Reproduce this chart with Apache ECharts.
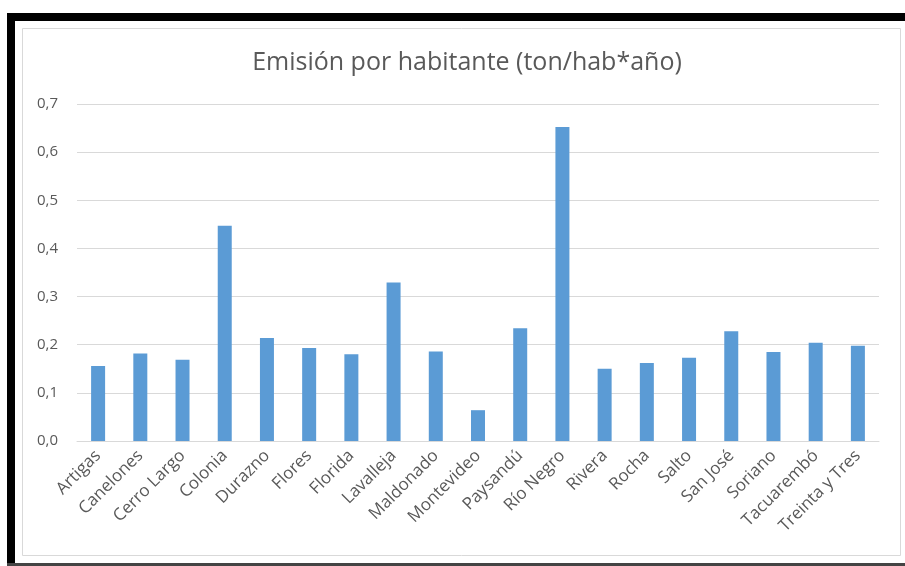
<!DOCTYPE html>
<html>
<head>
<meta charset="utf-8">
<script src="https://cdn.jsdelivr.net/npm/echarts@6/dist/echarts.min.js"></script>
<style>
  html, body { margin: 0; padding: 0; background: #fff; }
  #chart { width: 905px; height: 566px; }
</style>
</head>
<body>
<div id="chart"></div>
<script>
  // departamentos
  var departamentos = ['Artigas', 'Canelones', 'Cerro Largo', 'Colonia', 'Durazno', 'Flores', 'Florida',
    'Lavalleja', 'Maldonado', 'Montevideo', 'Paysandú', 'Río Negro', 'Rivera', 'Rocha', 'Salto',
    'San José', 'Soriano', 'Tacuarembó', 'Treinta y Tres']
  // emision ton/hab*año
  var emision = [0.156, 0.182, 0.169, 0.447, 0.214, 0.193, 0.180,
    0.329, 0.186, 0.064, 0.234, 0.652, 0.150, 0.162, 0.173,
    0.228, 0.185, 0.204, 0.198]
  var yMin = 0
  var yMax = 0.7
  var yStep = 0.1

  var font = 'Open Sans'
  var myChart = echarts.init(document.getElementById('chart'))
  var option = {
    animation: false,
    backgroundColor: '#fff',
    title: {
      text: 'Emisión por habitante (ton/hab*año)',
      left: 462,
      top: 45,
      textAlign: 'center',
      textStyle: { fontFamily: font, fontSize: 25, fontWeight: 'normal', color: '#595959' }
    },
    graphic: [
      // marco negro de la captura
      { type: 'rect', shape: { x: 7, y: 13, width: 898, height: 8 }, style: { fill: '#000' }, silent: true },
      { type: 'rect', shape: { x: 7, y: 13, width: 8, height: 553 }, style: { fill: '#000' }, silent: true },
      { type: 'rect', shape: { x: 7, y: 563, width: 898, height: 3 }, style: { fill: '#444' }, silent: true },
      // borde del grafico
      { type: 'rect', shape: { x: 22.5, y: 28.5, width: 878, height: 527 }, style: { fill: 'none', stroke: '#d9d9d9', lineWidth: 1 }, silent: true }
    ],
    grid: { left: 77, right: 26, top: 104, bottom: 125 },
    xAxis: {
      type: 'category',
      data: departamentos,
      axisLine: { lineStyle: { color: '#d9d9d9', width: 1 } },
      axisTick: { show: false },
      axisLabel: {
        interval: 0,
        rotate: 45,
        margin: 12,
        fontFamily: font,
        fontSize: 17,
        color: '#595959'
      }
    },
    yAxis: {
      type: 'value',
      min: yMin,
      max: yMax,
      interval: yStep,
      axisLine: { show: false },
      axisTick: { show: false },
      splitLine: { lineStyle: { color: '#d9d9d9', width: 1 } },
      axisLabel: {
        margin: 19,
        fontFamily: font,
        fontSize: 15,
        color: '#595959',
        formatter: function (v) { return v.toFixed(1).replace('.', ',') }
      }
    },
    series: [
      {
        type: 'bar',
        data: emision,
        barWidth: 14,
        itemStyle: { color: '#5b9bd5' }
      }
    ]
  }
  myChart.setOption(option)
</script>
</body>
</html>
